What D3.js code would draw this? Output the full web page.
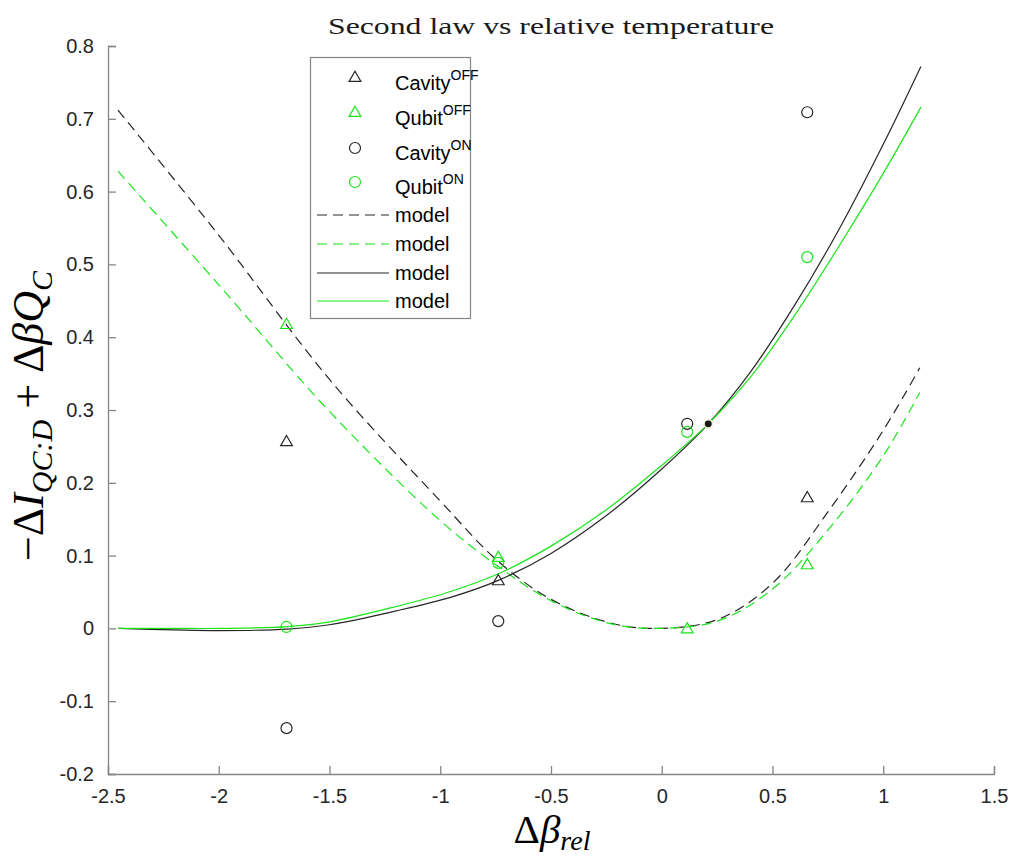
<!DOCTYPE html>
<html>
<head>
<meta charset="utf-8">
<script src="https://cdn.jsdelivr.net/npm/d3@7"></script>
<style>
  body { margin: 0; background: #fff; }
  svg { font-family: "Liberation Sans", Arial, sans-serif; }
</style>
</head>
<body>
<div id="chart"></div>
<script>
// measured points
const xMeas = [-1.694, -0.738, 0.115, 0.657];
const cavityOff = [[-1.694, 0.257], [-0.738, 0.066], [0.657, 0.180]];
const qubitOff = [[-1.694, 0.418], [-0.738, 0.098], [0.115, 0.0], [0.657, 0.088]];
const cavityOn = [-0.137, 0.010, 0.281, 0.709];
const qubitOn = [0.002, 0.090, 0.270, 0.510];
const marked = [[0.21, 0.281]];

// model curves
const xDash = [-2.455, -2.0, -1.5, -1.0, -0.738, -0.5, -0.25, -0.05, 0.25, 0.5, 0.75, 1.0, 1.165];
const cavityDash = [0.712, 0.54, 0.342, 0.175, 0.092, 0.04, 0.009, 0.0, 0.012, 0.062, 0.16, 0.272, 0.358];
const qubitDash = [0.628, 0.472, 0.298, 0.148, 0.085, 0.038, 0.008, 0.0, 0.01, 0.054, 0.135, 0.237, 0.324];
const xSolid = [-2.455, -2.2, -2.0, -1.69, -1.5, -1.2, -0.95, -0.738, -0.5, -0.25, 0, 0.21, 0.4, 0.6, 0.8, 1.0, 1.17];
const cavitySolid = [0.0, -0.002, -0.003, -0.001, 0.005, 0.024, 0.043, 0.066, 0.103, 0.155, 0.219, 0.281, 0.352, 0.444, 0.548, 0.665, 0.772];
const qubitSolid = [0.0, 0.0, 0.0, 0.0025, 0.009, 0.030, 0.051, 0.075, 0.113, 0.163, 0.224, 0.281, 0.345, 0.43, 0.525, 0.625, 0.716];

const xTicks = [-2.5, -2, -1.5, -1, -0.5, 0, 0.5, 1, 1.5];
const yTicks = [-0.2, -0.1, 0, 0.1, 0.2, 0.3, 0.4, 0.5, 0.6, 0.7, 0.8];

const width = 1013, height = 857;
const black = "#262626", green = "#19e619", axisCol = "#858585";

const svg = d3.select("#chart").append("svg")
    .attr("width", width)
    .attr("height", height);

const x = d3.scaleLinear().domain([-2.5, 1.5]).range([108, 994]);
const y = d3.scaleLinear().domain([-0.2, 0.8]).range([774, 46]);

// axes (MATLAB style, ticks inward, no box)
const xAxis = svg.append("g")
    .attr("transform", `translate(0,${y(-0.2)})`)
    .call(d3.axisBottom(x).tickValues(xTicks).tickSize(-8).tickPadding(15)
        .tickFormat(d => String(d)));
const yAxis = svg.append("g")
    .attr("transform", `translate(${x(-2.5)},0)`)
    .call(d3.axisLeft(y).tickValues(yTicks).tickSize(-8).tickPadding(14)
        .tickFormat(d => String(+d.toFixed(1))));
[xAxis, yAxis].forEach(a => {
    a.select(".domain").attr("stroke", axisCol).attr("stroke-width", 1.3);
    a.selectAll(".tick line").attr("stroke", axisCol).attr("stroke-width", 1.3);
    a.selectAll(".tick text").attr("fill", black).attr("font-size", 20)
        .attr("font-family", "Liberation Sans, Arial, sans-serif");
});

// model lines
const line = d3.line().x(d => x(d[0])).y(d => y(d[1])).curve(d3.curveCatmullRom.alpha(0.5));
const models = [
    { xs: xDash, ys: cavityDash, color: black, dash: "10,6" },
    { xs: xDash, ys: qubitDash, color: green, dash: "10,6" },
    { xs: xSolid, ys: cavitySolid, color: black, dash: null },
    { xs: xSolid, ys: qubitSolid, color: green, dash: null }
];
svg.append("g").selectAll("path")
    .data(models)
    .join("path")
    .attr("d", m => line(m.xs.map((v, i) => [v, m.ys[i]])))
    .attr("fill", "none")
    .attr("stroke", m => m.color)
    .attr("stroke-width", 1.2)
    .attr("stroke-dasharray", m => m.dash);

// markers
const tri = d3.symbol().type(d3.symbolTriangle).size(60);
function triangles(data, color) {
    svg.append("g").selectAll("path")
        .data(data)
        .join("path")
        .attr("d", tri)
        .attr("transform", d => `translate(${x(d[0])},${y(d[1]) + 1})`)
        .attr("fill", "none")
        .attr("stroke", color)
        .attr("stroke-width", 1.2);
}
function circles(vals, color) {
    svg.append("g").selectAll("circle")
        .data(vals.map((v, i) => [xMeas[i], v]))
        .join("circle")
        .attr("cx", d => x(d[0]))
        .attr("cy", d => y(d[1]))
        .attr("r", 5.5)
        .attr("fill", "none")
        .attr("stroke", color)
        .attr("stroke-width", 1.2);
}
triangles(cavityOff, black);
triangles(qubitOff, green);
circles(cavityOn, black);
circles(qubitOn, green);

svg.append("g").selectAll("circle")
    .data(marked)
    .join("circle")
    .attr("cx", d => x(d[0]))
    .attr("cy", d => y(d[1]))
    .attr("r", 4.2)
    .attr("fill", "#1a1a1a")
    .attr("stroke", "#f3efd6")
    .attr("stroke-width", 1.5);

// legend
const legend = svg.append("g");
legend.append("rect")
    .attr("x", 310.5).attr("y", 57.5).attr("width", 160).attr("height", 261)
    .attr("fill", "#fff").attr("stroke", axisCol).attr("stroke-width", 1.2);
const legItems = [
    { name: "Cavity", sup: "OFF", color: black, kind: "tri", cy: 78 },
    { name: "Qubit", sup: "OFF", color: green, kind: "tri", cy: 113 },
    { name: "Cavity", sup: "ON", color: black, kind: "circ", cy: 148 },
    { name: "Qubit", sup: "ON", color: green, kind: "circ", cy: 182 },
    { name: "model", color: black, kind: "dash", cy: 215 },
    { name: "model", color: green, kind: "dash", cy: 244 },
    { name: "model", color: black, kind: "solid", cy: 273 },
    { name: "model", color: green, kind: "solid", cy: 301 }
];
legItems.forEach(it => {
    if (it.kind === "tri") {
        legend.append("path").attr("d", tri)
            .attr("transform", `translate(355,${it.cy})`)
            .attr("fill", "none").attr("stroke", it.color).attr("stroke-width", 1.2);
    } else if (it.kind === "circ") {
        legend.append("circle").attr("cx", 355).attr("cy", it.cy).attr("r", 5.5)
            .attr("fill", "none").attr("stroke", it.color).attr("stroke-width", 1.2);
    } else {
        legend.append("line").attr("x1", 317).attr("x2", 389)
            .attr("y1", it.cy).attr("y2", it.cy)
            .attr("stroke", it.color).attr("stroke-width", 1.2)
            .attr("stroke-dasharray", it.kind === "dash" ? "10,6" : null);
    }
    const t = legend.append("text")
        .attr("x", 395)
        .attr("y", it.sup ? it.cy + 12 : it.cy + 7)
        .attr("font-size", 20)
        .attr("fill", "#000")
        .text(it.name);
    if (it.sup) {
        t.append("tspan").attr("dy", -10).attr("font-size", 14).text(it.sup);
    }
});

// title
svg.append("text")
    .attr("x", 551).attr("y", 34)
    .attr("text-anchor", "middle")
    .attr("font-family", "Liberation Serif, 'Times New Roman', serif")
    .attr("font-size", 24)
    .attr("textLength", 446)
    .attr("lengthAdjust", "spacingAndGlyphs")
    .attr("fill", "#1a1a1a")
    .text("Second law vs relative temperature");

// x label
const xl = svg.append("text")
    .attr("x", 552).attr("y", 843)
    .attr("text-anchor", "middle")
    .attr("font-family", "Liberation Serif, serif")
    .attr("font-size", 41)
    .attr("fill", "#000");
xl.append("tspan").text("Δ");
xl.append("tspan").attr("font-style", "italic").text("β");
xl.append("tspan").attr("font-style", "italic").attr("font-size", 28).attr("dy", 7).text("rel");

// y label
const yl = svg.append("text")
    .attr("transform", "translate(43,416) rotate(-90)")
    .attr("text-anchor", "middle")
    .attr("font-family", "Liberation Serif, serif")
    .attr("font-size", 44)
    .attr("fill", "#000");
yl.append("tspan").text("−Δ");
yl.append("tspan").attr("font-style", "italic").text("I");
yl.append("tspan").attr("font-style", "italic").attr("font-size", 30).attr("dy", 9).text("QC:D");
yl.append("tspan").attr("dy", -9).text(" + Δ");
yl.append("tspan").attr("font-style", "italic").text("βQ");
yl.append("tspan").attr("font-style", "italic").attr("font-size", 30).attr("dy", 9).text("C");
</script>
</body>
</html>
